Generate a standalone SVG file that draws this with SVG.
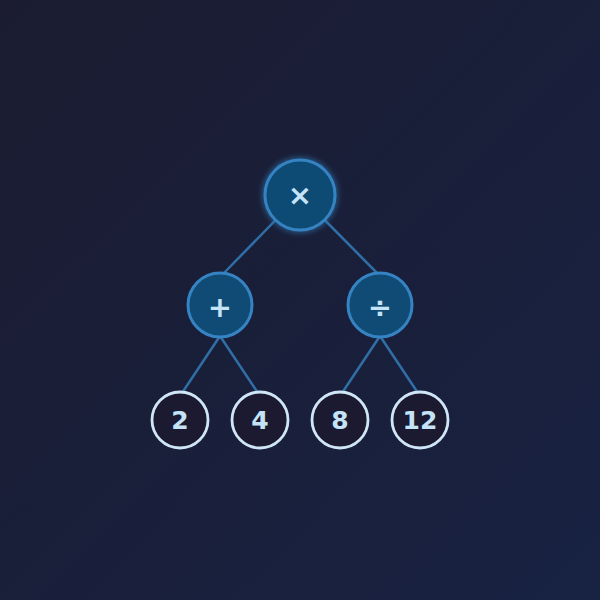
<svg xmlns="http://www.w3.org/2000/svg" width="600" height="600" viewBox="0 0 600 600">
  <defs>
    <linearGradient id="bg" x1="0" y1="0" x2="1" y2="1">
      <stop offset="0" stop-color="#1b1c31"/>
      <stop offset="1" stop-color="#182242"/>
    </linearGradient>
    <filter id="glow2" x="-50%" y="-50%" width="200%" height="200%">
      <feGaussianBlur in="SourceGraphic" stdDeviation="3" result="b"/>
      <feMerge><feMergeNode in="b"/><feMergeNode in="SourceGraphic"/></feMerge>
    </filter>
  </defs>
  <style>
    .edge { stroke: #2f6ea6; stroke-width: 2.5; fill: none; stroke-linecap: round; }
    .op { fill: #0f4b74; stroke: #3583c2; stroke-width: 3; }
    .leaf { fill: #1c1a31; stroke: #cfe6f6; stroke-width: 2.8; }
    .t { font-family: "DejaVu Sans", "Liberation Sans", sans-serif; font-weight: bold; fill: #c5e3f6; text-anchor: middle; }
    .opt { font-size: 29px; }
    .lt { font-size: 25px; }
  </style>
  <rect width="600" height="600" fill="url(#bg)"/>
  <g id="connectors">
    <line class="edge" x1="300" y1="195" x2="222" y2="275"/>
    <line class="edge" x1="300" y1="195" x2="379" y2="275"/>
    <line class="edge" x1="220" y1="336" x2="182" y2="393"/>
    <line class="edge" x1="220" y1="336" x2="258" y2="393"/>
    <line class="edge" x1="380" y1="336" x2="342" y2="393"/>
    <line class="edge" x1="380" y1="336" x2="418" y2="393"/>
  </g>
  <g id="node-mul">
    <circle class="op" cx="300" cy="195" r="35" filter="url(#glow2)"/>
    <text class="t opt" x="300" y="205">×</text>
  </g>
  <g id="node-add">
    <circle class="op" cx="220" cy="305" r="32"/>
    <text class="t opt" x="220" y="317">+</text>
  </g>
  <g id="node-div">
    <circle class="op" cx="380" cy="305" r="32"/>
    <text class="t opt" x="380" y="317">÷</text>
  </g>
  <g id="node-2">
    <circle class="leaf" cx="180" cy="420" r="28"/>
    <text class="t lt" x="180" y="429">2</text>
  </g>
  <g id="node-4">
    <circle class="leaf" cx="260" cy="420" r="28"/>
    <text class="t lt" x="260" y="429">4</text>
  </g>
  <g id="node-8">
    <circle class="leaf" cx="340" cy="420" r="28"/>
    <text class="t lt" x="340" y="429">8</text>
  </g>
  <g id="node-12">
    <circle class="leaf" cx="420" cy="420" r="28"/>
    <text class="t lt" x="420" y="429">12</text>
  </g>
</svg>
